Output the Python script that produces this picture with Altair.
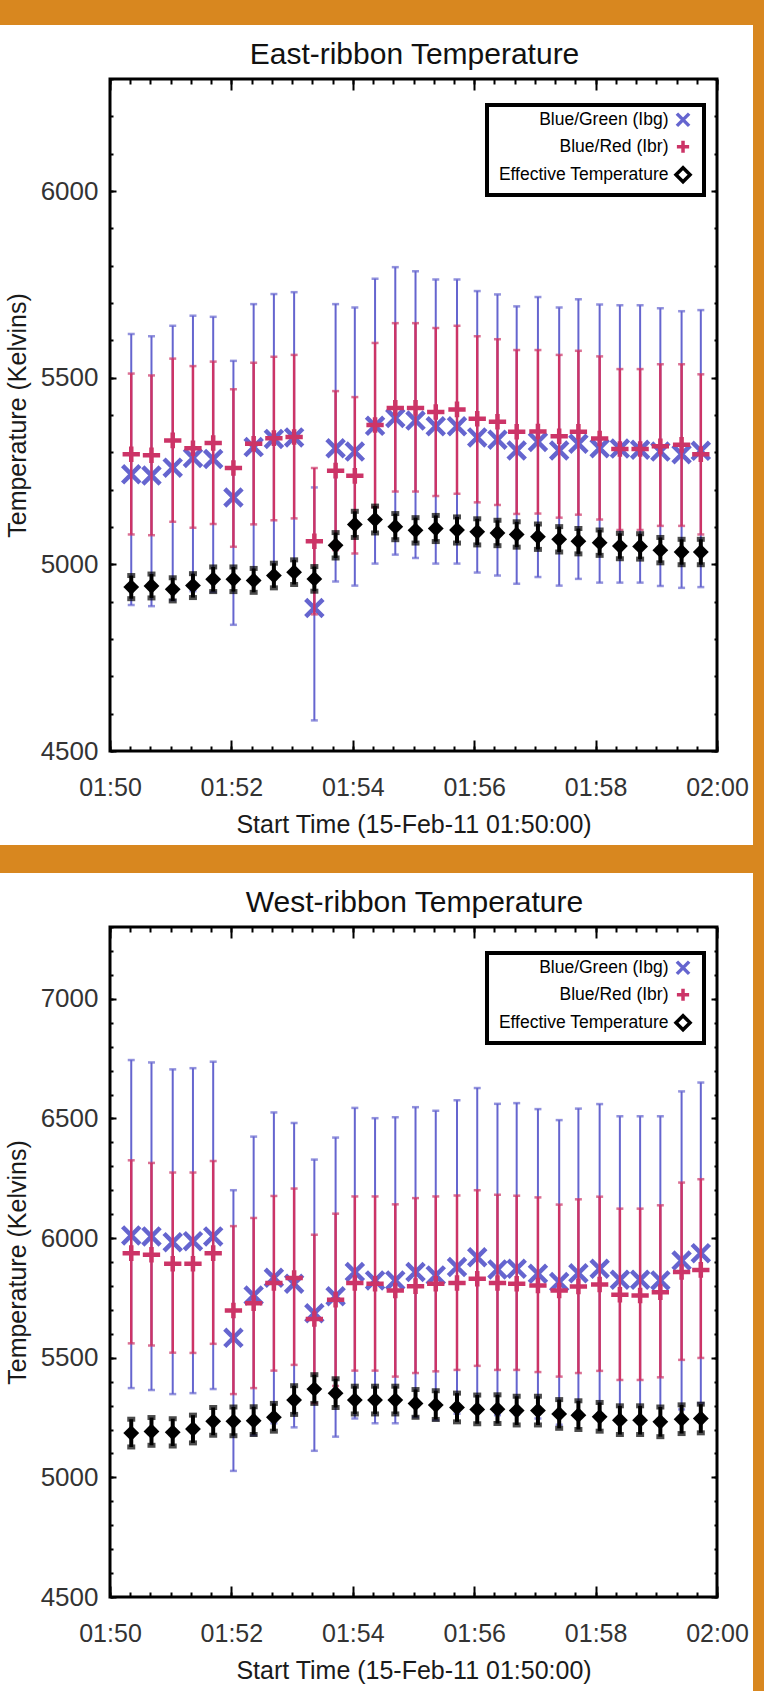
import altair as alt
import pandas as pd

FONT = "Liberation Sans"
BLUE = "#6565CF"
RED = "#CC3467"
ORANGE = "#D8871F"

# observation times, seconds after 01:50:00
times = [21, 41, 62, 82, 102, 122, 142, 162, 182, 202, 223, 242, 262, 282, 302,
         322, 343, 363, 383, 402, 423, 444, 463, 484, 504, 524, 544, 565, 584]

# ---- East ribbon ----
east_bg = [5241, 5238, 5259, 5285, 5282, 5179, 5314, 5336, 5340, 4883, 5311, 5302, 5371, 5392, 5385,
           5370, 5370, 5340, 5334, 5305, 5328, 5305, 5323, 5311, 5310, 5307, 5302, 5295, 5304]
east_bg_hi = [5617, 5611, 5639, 5666, 5663, 5545, 5697, 5724, 5729, 5206, 5697, 5688, 5765, 5796, 5785,
              5763, 5763, 5732, 5723, 5691, 5716, 5688, 5710, 5696, 5694, 5694, 5686, 5678, 5681]
east_bg_lo = [4891, 4888, 4904, 4928, 4926, 4838, 4956, 4973, 4976, 4582, 4954, 4943, 5002, 5026, 5017,
              5002, 5002, 4978, 4970, 4948, 4966, 4943, 4961, 4951, 4951, 4951, 4942, 4937, 4939]
east_br = [5295, 5292, 5332, 5311, 5325, 5258, 5323, 5338, 5341, 5062, 5251, 5237, 5373, 5419, 5419,
           5408, 5415, 5390, 5382, 5355, 5356, 5343, 5355, 5337, 5309, 5309, 5316, 5320, 5295]
east_br_hi = [5511, 5506, 5551, 5531, 5543, 5469, 5540, 5556, 5561, 5258, 5464, 5448, 5593, 5646, 5646,
              5633, 5639, 5611, 5603, 5574, 5574, 5561, 5572, 5557, 5523, 5523, 5536, 5536, 5509]
east_br_lo = [5080, 5078, 5114, 5098, 5108, 5047, 5107, 5118, 5123, 4866, 5038, 5029, 5153, 5195, 5195,
              5183, 5189, 5166, 5159, 5135, 5136, 5125, 5133, 5120, 5092, 5092, 5103, 5103, 5080]
east_eff = [4939, 4942, 4933, 4943, 4960, 4960, 4957, 4970, 4979, 4961, 5051, 5107, 5120, 5101, 5091,
            5096, 5092, 5087, 5084, 5080, 5074, 5067, 5062, 5058, 5049, 5048, 5038, 5033, 5033]
east_eff_err = [31, 32, 31, 32, 33, 33, 32, 33, 33, 33, 34, 35, 36, 35, 34,
                35, 35, 35, 34, 34, 34, 34, 34, 34, 34, 34, 34, 34, 34]

# ---- West ribbon ----
west_bg = [6011, 6007, 5983, 5987, 6007, 5583, 5760, 5834, 5809, 5686, 5757, 5858, 5823, 5823, 5858,
           5844, 5879, 5920, 5869, 5872, 5851, 5816, 5853, 5872, 5826, 5826, 5823, 5906, 5937]
west_bg_hi = [6744, 6734, 6705, 6710, 6737, 6200, 6424, 6525, 6481, 6328, 6420, 6544, 6501, 6505, 6547,
              6532, 6576, 6627, 6561, 6564, 6539, 6493, 6541, 6560, 6509, 6509, 6509, 6613, 6650]
west_bg_lo = [5373, 5365, 5348, 5352, 5369, 5027, 5176, 5226, 5209, 5111, 5170, 5246, 5226, 5226, 5252,
              5239, 5266, 5298, 5260, 5263, 5246, 5220, 5248, 5267, 5225, 5225, 5222, 5284, 5310]
west_br = [5937, 5930, 5893, 5893, 5937, 5697, 5728, 5812, 5833, 5662, 5742, 5812, 5809, 5781, 5799,
           5809, 5812, 5830, 5812, 5809, 5802, 5781, 5798, 5806, 5763, 5760, 5774, 5858, 5867]
west_br_hi = [6325, 6314, 6274, 6274, 6322, 6050, 6084, 6176, 6207, 6014, 6102, 6174, 6174, 6141, 6167,
              6174, 6178, 6200, 6181, 6177, 6170, 6140, 6162, 6173, 6123, 6123, 6137, 6232, 6246]
west_br_lo = [5560, 5551, 5521, 5520, 5558, 5348, 5373, 5446, 5470, 5310, 5382, 5446, 5446, 5421, 5436,
              5443, 5449, 5466, 5449, 5449, 5440, 5421, 5436, 5445, 5407, 5407, 5418, 5491, 5499]
west_eff = [5185, 5192, 5188, 5202, 5234, 5234, 5237, 5251, 5323, 5369, 5352, 5323, 5323, 5323, 5309,
            5302, 5292, 5284, 5285, 5279, 5279, 5265, 5260, 5253, 5239, 5239, 5232, 5243, 5246]
west_eff_err = [58, 58, 57, 58, 58, 60, 58, 58, 60, 60, 60, 58, 58, 58, 58,
                60, 60, 60, 60, 60, 60, 60, 60, 60, 60, 60, 62, 60, 60]

SERIES = ["Blue/Green (Ibg)", "Blue/Red (Ibr)", "Effective Temperature"]
X_PATH = "M-1,-1L1,1M1,-1L-1,1"
PLUS_PATH = "M-1,0L1,0M0,-0.9L0,0.9"
# legend symbols are drawn to the right of their (right-aligned) labels
LEG_SHAPES = ["M2.8,-1L4.8,1M4.8,-1L2.8,1",
              "M2.8,0L4.8,0M3.8,-1L3.8,1",
              "M3.8,-1.15L4.95,0L3.8,1.15L2.65,0Z"]

major_x = [0, 120, 240, 360, 480, 600]
minor_x = [0, 20, 40, 60, 80, 100, 120, 140, 160, 180, 200, 220, 240, 260, 280, 300,
           320, 340, 360, 380, 400, 420, 440, 460, 480, 500, 520, 540, 560, 580, 600]
east_ymajor = [4500, 5000, 5500, 6000]
east_yminor = list(range(4500, 6301, 100))
west_ymajor = [4500, 5000, 5500, 6000, 6500, 7000]
west_yminor = list(range(4500, 7301, 100))

X_TITLE = "Start Time (15-Feb-11 01:50:00)"
Y_TITLE = "Temperature (Kelvins)"
LABEL_EXPR = "timeFormat(datetime(2011, 1, 15, 1, 50, datum.value), '%H:%M')"


def ax(orient, values, size, **kw):
    return alt.Axis(orient=orient, values=values, tickSize=size, offset=-size,
                    domain=False, grid=False, tickColor="black", tickWidth=2, **kw)


def panel(bg, bg_lo, bg_hi, br, br_lo, br_hi, eff, eff_err, ydom, ymaj, ymin, h):
    df = pd.DataFrame(dict(t=times, bg=bg, bg_lo=bg_lo, bg_hi=bg_hi, br=br, br_lo=br_lo,
                           br_hi=br_hi, eff=eff, eff_err=eff_err))
    xs = alt.Scale(domain=[0, 600], nice=False, zero=False)
    ys = alt.Scale(domain=ydom, nice=False, zero=False)
    nolab = dict(labels=False, title=None)

    ax_b = ax("bottom", major_x, 11, labelExpr=LABEL_EXPR, labelFontSize=25, labelPadding=24,
              labelColor="#333333", labelFlush=False, title=X_TITLE, titleFontSize=25,
              titleFontWeight="normal", titleColor="#1a1a1a", titlePadding=12)
    ax_bm = ax("bottom", minor_x, 5, **nolab)
    ax_t = ax("top", major_x, 11, **nolab)
    ax_tm = ax("top", minor_x, 5, **nolab)
    ax_l = ax("left", ymaj, 6, format="d", labelFontSize=26, labelPadding=12, labelColor="#333333",
              labelFlush=False, title=Y_TITLE, titleFontSize=25, titleFontWeight="normal",
              titleColor="#1a1a1a", titlePadding=10)
    ax_lm = ax("left", ymin, 3, **nolab)
    ax_r = ax("right", ymaj, 6, **nolab)
    ax_rm = ax("right", ymin, 3, **nolab)

    def X(a):
        return alt.X("t:Q", scale=xs, axis=a)

    def Y(f, a):
        return alt.Y(f, scale=ys, axis=a)

    base = alt.Chart(df)
    blue_rule = base.mark_rule(color=BLUE, strokeWidth=2).encode(
        x=X(ax_b), y=Y("bg_lo:Q", ax_l), y2="bg_hi:Q")
    blue_caps = base.transform_fold(["bg_lo", "bg_hi"], as_=["k", "v"]).mark_tick(
        orient="horizontal", color=BLUE, size=7, thickness=2.5).encode(
        x=X(ax_bm), y=Y("v:Q", ax_lm))
    blue_pts = base.mark_point(shape=X_PATH, color=BLUE, filled=False, strokeWidth=4.5, size=300,
                               opacity=1).encode(x=X(None), y=Y("bg:Q", None))

    red_rule = base.mark_rule(color=RED, strokeWidth=2.5).encode(
        x=X(ax_t), y=Y("br_lo:Q", ax_r), y2="br_hi:Q")
    red_caps = base.transform_fold(["br_lo", "br_hi"], as_=["k", "v"]).mark_tick(
        orient="horizontal", color=RED, size=7, thickness=2.5).encode(
        x=X(ax_tm), y=Y("v:Q", ax_rm))
    red_pts = base.mark_point(shape=PLUS_PATH, color=RED, filled=False, strokeWidth=4.5, size=300,
                              opacity=1).encode(x=X(None), y=Y("br:Q", None))

    eff_base = base.transform_calculate(lo="datum.eff - datum.eff_err", hi="datum.eff + datum.eff_err")
    black_rule = eff_base.mark_rule(color="black", strokeWidth=4).encode(
        x=X(None), y=Y("lo:Q", None), y2="hi:Q")
    black_caps = eff_base.transform_fold(["lo", "hi"], as_=["k", "v"]).mark_tick(
        orient="horizontal", color="black", size=8, thickness=5).encode(
        x=X(None), y=Y("v:Q", None))
    black_pts = base.mark_point(shape="diamond", filled=True, size=250, color="black",
                                opacity=1).encode(x=X(None), y=Y("eff:Q", None))

    legend = alt.Legend(title=None, orient="none", legendX=377, legendY=26, symbolOpacity=1)
    legend_layer = alt.Chart(pd.DataFrame({"series": SERIES})).mark_point(
        filled=False, opacity=0, strokeWidth=3.5).encode(
        color=alt.Color("series:N", scale=alt.Scale(domain=SERIES, range=[BLUE, RED, "black"]),
                        legend=legend),
        shape=alt.Shape("series:N", scale=alt.Scale(domain=SERIES, range=LEG_SHAPES), legend=legend))

    return alt.layer(blue_rule, blue_caps, blue_pts, red_rule, red_caps, red_pts,
                     black_rule, black_caps, black_pts, legend_layer).resolve_axis(
        x="independent", y="independent").properties(
        width=607, height=h, view=alt.ViewBackground(stroke="black", strokeWidth=3, fill="white"))


def band(w, h, title=None):
    props = dict(width=w, height=h, view=alt.ViewBackground(fill=ORANGE, stroke=None))
    if title is not None:
        props["title"] = alt.TitleParams(text=title, orient="bottom", anchor="middle", fontSize=30,
                                         font=FONT, fontWeight="normal", color="#111111",
                                         offset=15, dx=38)
    return alt.Chart(alt.Data(values=[])).mark_point().properties(**props)


def spacer(w, h):
    return alt.Chart(alt.Data(values=[])).mark_point().properties(
        width=w, height=h, view=alt.ViewBackground(stroke=None))


east = panel(east_bg, east_bg_lo, east_bg_hi, east_br, east_br_lo, east_br_hi, east_eff, east_eff_err,
             [4500, 6300], east_ymajor, east_yminor, 672)
west = panel(west_bg, west_bg_lo, west_bg_hi, west_br, west_br_lo, west_br_hi, west_eff, west_eff_err,
             [4500, 7300], west_ymajor, west_yminor, 670)

row_east = alt.hconcat(spacer(3, 1), east, spacing=0).resolve_scale(
    color="independent", shape="independent")
row_west = alt.hconcat(spacer(3, 1), west, spacing=0).resolve_scale(
    color="independent", shape="independent")

column = alt.vconcat(
    band(753, 25, "East-ribbon Temperature"),
    row_east,
    band(753, 28, "West-ribbon Temperature"),
    row_west,
    band(753, 3),
    spacing=6,
).resolve_scale(color="independent", shape="independent")

chart = alt.hconcat(column, band(11, 1691), spacing=0).resolve_scale(
    color="independent", shape="independent"
).properties(
    padding=0, background="white"
).configure_view(stroke=None).configure_axis(
    labelFont=FONT, titleFont=FONT
).configure_legend(
    strokeColor="black", strokeWidth=4, fillColor="white", padding=6,
    labelFont=FONT, labelFontSize=17.5, labelColor="black", labelAlign="right",
    labelOffset=0, symbolOffset=158, labelLimit=400, rowPadding=0,
    symbolSize=150, symbolStrokeWidth=3.5, symbolOpacity=1
)

chart.save("out.html", embed_options={"renderer": "svg", "actions": False})
